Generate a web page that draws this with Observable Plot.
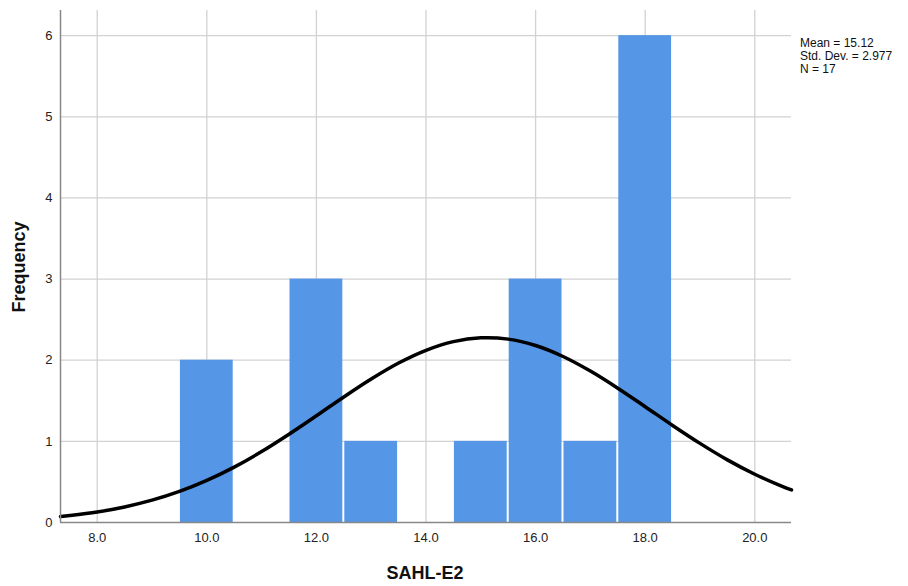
<!DOCTYPE html>
<html>
<head>
<meta charset="utf-8">
<script src="https://cdn.jsdelivr.net/npm/d3@7"></script>
<script src="https://cdn.jsdelivr.net/npm/@observablehq/plot@0.6"></script>
<style>
  html, body { margin: 0; padding: 0; background: #fff; }
  #wrap { position: relative; width: 908px; height: 586px; font-family: "Liberation Sans", Arial, sans-serif; }
  #legend { position: absolute; left: 800px; top: 37px; font-size: 12px; line-height: 13px; color: #111; }
  #xtitle { position: absolute; left: 0; width: 850px; text-align: center; top: 563px; font-size: 18px; font-weight: bold; color: #111; }
  #ytitle { position: absolute; left: 19px; top: 267px; transform: translate(-50%, -50%) rotate(-90deg); font-size: 18px; font-weight: bold; color: #111; white-space: nowrap; }
</style>
</head>
<body>
<div id="wrap">
  <div id="chart"></div>
  <div id="legend">Mean = 15.12<br>Std. Dev. = 2.977<br>N = 17</div>
  <div id="xtitle">SAHL-E2</div>
  <div id="ytitle">Frequency</div>
</div>
<script>
// Histogram bins (center values) and frequencies
const binCenters = [10, 12, 13, 15, 16, 17, 18];
const frequencies = [2, 3, 1, 1, 3, 1, 6];
// Normal curve
const curveX = [7.33, 7.5, 8, 8.5, 9, 9.5, 10, 10.5, 11, 11.5, 12, 12.5, 13, 13.5, 14, 14.5, 15, 15.5, 16, 16.5, 17, 17.5, 18, 18.5, 19, 19.5, 20, 20.5, 20.67];
const curveY = [0.074, 0.086, 0.13, 0.192, 0.275, 0.383, 0.519, 0.683, 0.874, 1.088, 1.315, 1.547, 1.768, 1.965, 2.122, 2.229, 2.276, 2.26, 2.181, 2.046, 1.866, 1.655, 1.427, 1.196, 0.975, 0.772, 0.595, 0.445, 0.401];
const xTicks = [8, 10, 12, 14, 16, 18, 20];
const yTicks = [0, 1, 2, 3, 4, 5, 6];

const bars = binCenters.map((c, i) => ({x1: c - 0.5, x2: c + 0.5, y: frequencies[i]}));
const curve = curveX.map((x, i) => ({x, y: curveY[i]}));

const chart = Plot.plot({
  width: 908,
  height: 586,
  marginLeft: 60,
  marginRight: 117,
  marginTop: 10,
  marginBottom: 64,
  style: {fontFamily: "'Liberation Sans', Arial, sans-serif", fontSize: "13px", color: "#222", background: "#fff"},
  x: {domain: [7.33, 20.67]},
  y: {domain: [0, 6.31]},
  marks: [
    Plot.ruleX(xTicks, {stroke: "#d2d2d2", strokeWidth: 1.3}),
    Plot.ruleY(yTicks.filter(d => d > 0), {stroke: "#d2d2d2", strokeWidth: 1.3}),
    Plot.rectY(bars, {x1: "x1", x2: "x2", y: "y", fill: "#5596e6", insetLeft: 1, insetRight: 1}),
    Plot.line(curve, {x: "x", y: "y", curve: "catmull-rom", stroke: "#000", strokeWidth: 3.5}),
    Plot.axisX(xTicks, {tickSize: 0, tickPadding: 10, tickFormat: d3.format(".1f"), label: null, fontSize: 13}),
    Plot.axisY(yTicks, {tickSize: 0, tickPadding: 8, tickFormat: d3.format("d"), label: null, fontSize: 13}),
    Plot.ruleX([7.33], {stroke: "#888", strokeWidth: 1.5}),
    Plot.ruleY([0], {stroke: "#888", strokeWidth: 1.5})
  ]
});
document.getElementById("chart").appendChild(chart);
</script>
</body>
</html>
